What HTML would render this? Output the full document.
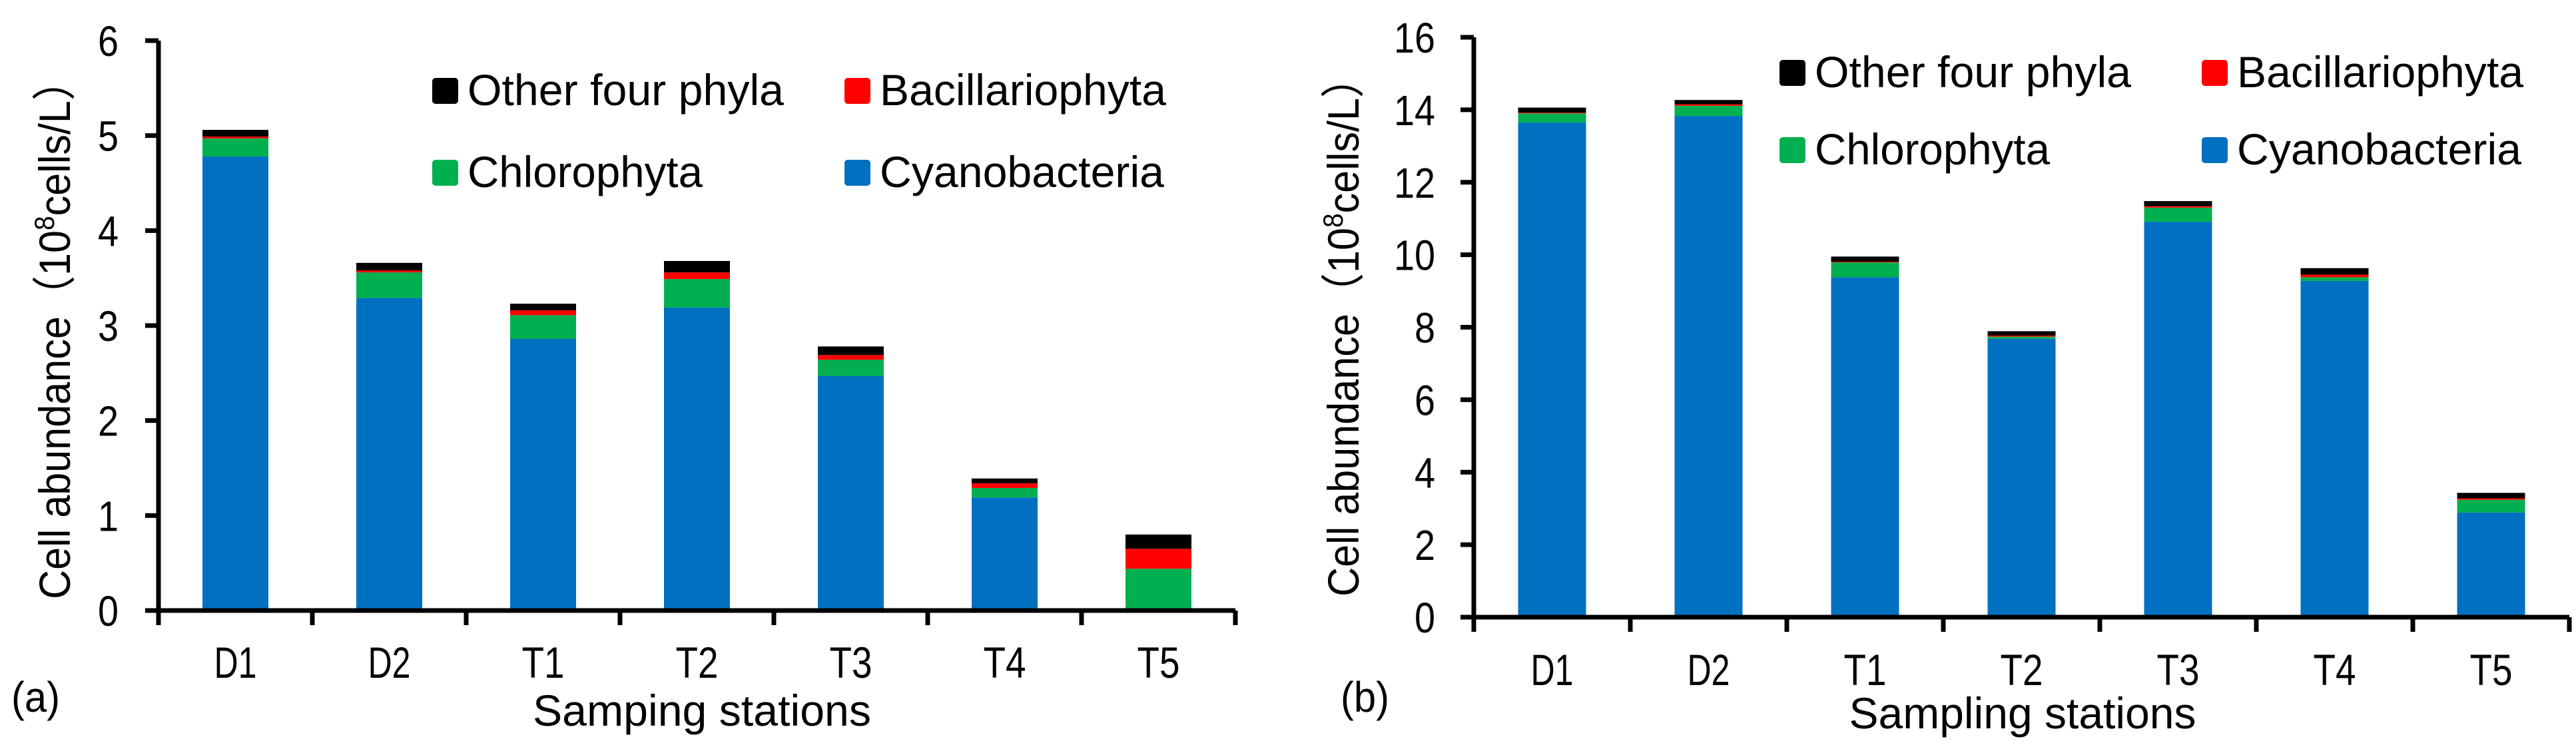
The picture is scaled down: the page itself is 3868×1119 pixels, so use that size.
<!DOCTYPE html>
<html><head><meta charset="utf-8"><style>
html,body{margin:0;padding:0;background:#fff;}
svg{display:block;font-family:"Liberation Sans",Arial,sans-serif;}
</style></head><body>
<svg id="fig" width="3868" height="1119" viewBox="0 0 3868 1119" xmlns="http://www.w3.org/2000/svg"></svg>
<script>
const categories = ["D1","D2","T1","T2","T3","T4","T5"];
const seriesNames = ["Cyanobacteria","Chlorophyta","Bacillariophyta","Other four phyla"];
const seriesColors = ["#0070C0","#00B050","#FF0000","#000000"];
// panel (a) values (10^8 cells/L)
const aCyano = [4.78,3.29,2.86,3.19,2.47,1.19,0];
const aChloro = [0.19,0.27,0.25,0.30,0.17,0.10,0.44];
const aBacil = [0.02,0.02,0.05,0.07,0.05,0.05,0.21];
const aOther = [0.07,0.08,0.07,0.12,0.09,0.05,0.15];
const aTicks = [0,1,2,3,4,5,6];
// panel (b) values
const bCyano = [13.65,13.83,9.38,7.68,10.91,9.28,2.89];
const bChloro = [0.25,0.28,0.41,0.06,0.39,0.10,0.35];
const bBacil = [0.02,0.04,0.02,0.03,0.04,0.07,0.04];
const bOther = [0.14,0.12,0.14,0.12,0.14,0.18,0.15];
const bTicks = [0,2,4,6,8,10,12,14,16];

const NS="http://www.w3.org/2000/svg";
const svg=document.getElementById('fig');
function mk(tag,attrs,parent){const e=document.createElementNS(NS,tag);for(const k in attrs)e.setAttribute(k,attrs[k]);(parent||svg).appendChild(e);return e;}

function panel(cfg){
  const g=mk('g',{});
  
  
  const yScale=v=>cfg.y0-(v/cfg.ymax)*(cfg.y0-cfg.yTop);
  const cw=(cfg.xEnd-cfg.x0)/categories.length;
  const xCenter=i=>cfg.x0+cw*(i+0.5);
  const series=[cfg.cyano,cfg.chloro,cfg.bacil,cfg.other];
  // bars
  categories.forEach((c,i)=>{
    let base=0;
    series.forEach((arr,s)=>{
      const v=arr[i];
      if(v>0){
        const r=mk('rect',{x:xCenter(i)-cfg.bw/2,y:yScale(base+v),width:cfg.bw,height:yScale(base)-yScale(base+v),fill:seriesColors[s]},g);
        
        
      }
      base+=v;
    });
  });
  // axes
  const ya=mk('line',{x1:cfg.x0,y1:cfg.yTop,x2:cfg.x0,y2:cfg.y0+20,stroke:'#000','stroke-width':7},g);
  
  
  const xa=mk('line',{x1:cfg.x0-20,y1:cfg.y0,x2:cfg.xEnd,y2:cfg.y0,stroke:'#000','stroke-width':7},g);
  
  
  for(let i=0;i<=categories.length;i++){
    const x=cfg.x0+cw*i;
    mk('line',{x1:x,y1:cfg.y0,x2:x,y2:cfg.y0+22,stroke:'#000','stroke-width':7},g);
  }
  cfg.ticks.forEach(t=>{
    const y=yScale(t);
    mk('line',{x1:cfg.x0-20,y1:y,x2:cfg.x0,y2:y,stroke:'#000','stroke-width':7},g);
    const tl=mk('text',{x:cfg.tickRight,y:y+23,'text-anchor':'end','font-size':64,textLength:String(t).length*31,lengthAdjust:'spacingAndGlyphs'},g);
    tl.textContent=t;
    
    
  });
  categories.forEach((c,i)=>{
    const t=mk('text',{x:xCenter(i),y:cfg.xlabBase,'text-anchor':'middle','font-size':66,textLength:64,lengthAdjust:'spacingAndGlyphs'},g);
    t.textContent=c;
    
    
  });
  // x title
  const xt=mk('text',{x:cfg.xtX,y:cfg.xtY,'text-anchor':'middle','font-size':66,textLength:cfg.xtLen,lengthAdjust:'spacingAndGlyphs'},g);
  xt.textContent=cfg.xtitle;
  
  
  // y title
  const yt=mk('text',{x:0,y:0,'text-anchor':'middle','font-size':66,textLength:810,lengthAdjust:'spacingAndGlyphs',transform:`translate(${cfg.ytX},${cfg.ytY}) rotate(-90)`},g);
  
  
  const t1=mk('tspan',{},yt);t1.textContent='Cell abundance（10';
  const t2=mk('tspan',{'font-size':42,dy:-24},yt);t2.textContent='8';
  const t3=mk('tspan',{dy:24},yt);t3.textContent='cells/L）';
  // panel label
  const pl=mk('text',{x:cfg.plX,y:1069,'font-size':64,textLength:73,lengthAdjust:'spacingAndGlyphs'},g);
  pl.textContent=cfg.plabel;
  
  
  // legend
  const leg=[[3,cfg.lx1,cfg.ly1,475],[2,cfg.lx2,cfg.ly1,430],[1,cfg.lx1,cfg.ly2,353],[0,cfg.lx2,cfg.ly2,427]];
  leg.forEach(([s,x,yb,len])=>{
    const sq=mk('rect',{x:x,y:yb-41,width:39,height:39,rx:5,fill:seriesColors[s]},g);
    
    
    const lt=mk('text',{x:x+53,y:yb,'font-size':66,textLength:len,lengthAdjust:'spacingAndGlyphs'},g);
    lt.textContent=seriesNames[s];
    
    
  });
}

panel({id:'a',x0:238,xEnd:1855,y0:917,yTop:61,ymax:6,bw:99,ticks:aTicks,tickRight:178,
  cyano:aCyano,chloro:aChloro,bacil:aBacil,other:aOther,xlabBase:1018,
  xtitle:'Samping stations',xtX:1054,xtY:1090,xtLen:508,ytX:105,ytY:495,plabel:'(a)',plX:17,
  lx1:649,lx2:1268,ly1:158,ly2:281});
panel({id:'b',x0:2213,xEnd:3858,y0:927,yTop:56,ymax:16,bw:102,ticks:bTicks,tickRight:2155,
  cyano:bCyano,chloro:bChloro,bacil:bBacil,other:bOther,xlabBase:1029,
  xtitle:'Sampling stations',xtX:3037,xtY:1094,xtLen:521,ytX:2040,ytY:491,plabel:'(b)',plX:2013,
  lx1:2672,lx2:3306,ly1:131,ly2:247});
</script>
</body></html>
